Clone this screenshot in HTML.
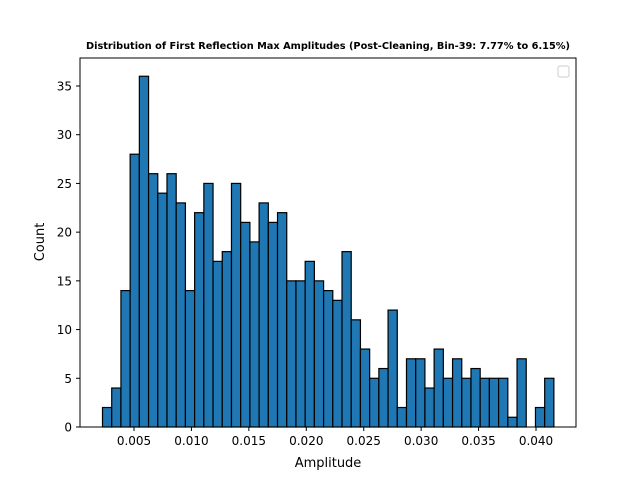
<!DOCTYPE html>
<html><head><meta charset="utf-8"><style>
body{margin:0;background:#fff;font-family:"Liberation Sans",sans-serif;}
svg text{font-family:"DejaVu Sans","Liberation Sans",sans-serif;}
</style></head><body>
<svg id="chart" width="640" height="480" xmlns="http://www.w3.org/2000/svg">
<rect width="640" height="480" fill="#fff"/>
<text x="328" y="49" font-size="9.8" font-weight="bold" text-anchor="middle" textLength="484" lengthAdjust="spacingAndGlyphs">Distribution of First Reflection Max Amplitudes (Post-Cleaning, Bin-39: 7.77% to 6.15%)</text>
<g id="bars"></g>
<rect x="80" y="58" width="496" height="369" fill="none" stroke="#000" stroke-width="1"/>
<g id="axes"></g>
<rect x="558" y="66" width="11" height="11" rx="2" fill="#fff" stroke="#ccc"/>
<text x="328" y="467" font-size="13" text-anchor="middle">Amplitude</text>
<text transform="translate(44,242) rotate(-90)" font-size="13" text-anchor="middle">Count</text>
</svg>
<script>
const counts = [2,4,14,28,36,26,24,26,23,14,22,25,17,18,25,21,19,23,21,22,15,15,17,15,14,13,18,11,8,5,6,12,2,7,7,4,8,5,7,5,6,5,5,5,1,7,0,2,5];
const binStart = 0.002258;
const binWidth = 0.000802;
const xTicks = [0.005,0.010,0.015,0.020,0.025,0.030,0.035,0.040];
const xTickLabels = ["0.005","0.010","0.015","0.020","0.025","0.030","0.035","0.040"];
const yTicks = [0,5,10,15,20,25,30,35];
const NS="http://www.w3.org/2000/svg";
function xs(v){return 76.57+v*11486;}
function ys(v){return 427-v*9.743;}
const bars=document.getElementById('bars');
counts.forEach((c,i)=>{
  if(c<=0)return;
  const r=document.createElementNS(NS,'rect');
  const x0=xs(binStart+i*binWidth), x1=xs(binStart+(i+1)*binWidth);
  r.setAttribute('x',x0);r.setAttribute('width',x1-x0);
  r.setAttribute('y',ys(c));r.setAttribute('height',ys(0)-ys(c));
  r.setAttribute('fill','#1f77b4');r.setAttribute('stroke','#000');r.setAttribute('stroke-width','1.2');
  
  
  bars.appendChild(r);
});
const axes=document.getElementById('axes');
xTicks.forEach((t,i)=>{
  const l=document.createElementNS(NS,'line');
  l.setAttribute('x1',xs(t));l.setAttribute('x2',xs(t));l.setAttribute('y1',427);l.setAttribute('y2',431);l.setAttribute('stroke','#000');
  
  
  axes.appendChild(l);
  const tx=document.createElementNS(NS,'text');
  tx.setAttribute('x',xs(t));tx.setAttribute('y',445);tx.setAttribute('font-size','12');tx.setAttribute('text-anchor','middle');
  tx.textContent=xTickLabels[i];
  
  
  axes.appendChild(tx);
});
yTicks.forEach(t=>{
  const l=document.createElementNS(NS,'line');
  l.setAttribute('x1',76);l.setAttribute('x2',80);l.setAttribute('y1',ys(t));l.setAttribute('y2',ys(t));l.setAttribute('stroke','#000');
  
  
  axes.appendChild(l);
  const tx=document.createElementNS(NS,'text');
  tx.setAttribute('x',72);tx.setAttribute('y',ys(t)+4.5);tx.setAttribute('font-size','12');tx.setAttribute('text-anchor','end');
  tx.textContent=String(t);
  
  
  axes.appendChild(tx);
});
</script>
</body></html>
